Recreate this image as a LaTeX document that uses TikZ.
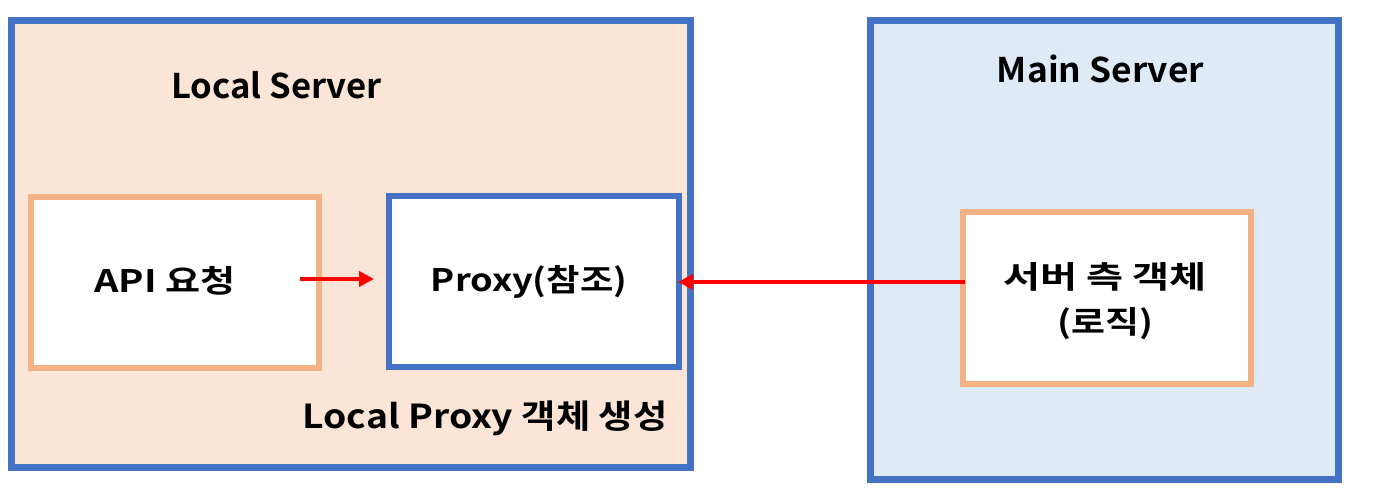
\documentclass[tikz,border=0pt]{standalone}
\usepackage{fontspec}
\setmainfont{Noto Sans CJK KR}[BoldFont={* Bold}]
\usetikzlibrary{arrows.meta}
\definecolor{peach}{HTML}{FBE5D6}
\definecolor{msblue}{HTML}{4472C4}
\definecolor{msorange}{HTML}{F4B183}
\definecolor{paleblue}{HTML}{DEEBF7}
\begin{document}
\begin{tikzpicture}[x=1pt,y=-1pt,
  outerbox/.style={draw=msblue,line width=7pt},
  orangebox/.style={draw=msorange,fill=white,line width=6pt},
  bluebox/.style={draw=msblue,fill=white,line width=6pt},
  lbl/.style={inner sep=0pt,anchor=base},
  big/.style={lbl,font=\fontsize{34}{40}\selectfont\bfseries},
  mid/.style={lbl,font=\fontsize{33}{40}\selectfont\bfseries},
  small/.style={lbl,font=\fontsize{31}{36}\selectfont\bfseries},
  redarrow/.style={draw=red,line width=4pt,-{Triangle[length=15pt,width=15pt]}}]
\useasboundingbox (0,0) rectangle (1377,502);
\path[outerbox,fill=peach] (11.5,20.5) rectangle (690.5,467.5);
\path[outerbox,fill=paleblue] (870.5,21) rectangle (1338.5,479.5);
\node[big] (ls) at (276.5,99) {\scalebox{1.02}[1]{Local Server}};
\node[big] (ms) at (1100.5,83) {\scalebox{1.04}[1]{Main Server}};
\path[orangebox] (31,197.5) rectangle (319,368);
\path[bluebox] (389,196) rectangle (678.5,367.5);
\path[orangebox] (962.5,212.5) rectangle (1251,384.5);
\node[small] (api) at (165,293) {\scalebox{1.23}[1]{API 요청}};
\node[small] (proxy) at (529,292) {\scalebox{1.17}[1]{Proxy(참조)}};
\node[small] (obj) at (1105,289) {\scalebox{1.3}[1]{서버 측 객체}};
\node[small] (logic) at (1105.5,334) {\scalebox{1.19}[1]{(로직)}};
\node[mid] (gen) at (485,429) {\scalebox{1.13}[1]{Local Proxy 객체 생성}};
\coordinate (a1s) at (300,279);
\coordinate (a1e) at (374,279);
\coordinate (a2s) at (965,282);
\coordinate (a2e) at (678,282);
\draw[redarrow] (a1s) -- (a1e);
\draw[redarrow] (a2s) -- (a2e);
\end{tikzpicture}
\end{document}
